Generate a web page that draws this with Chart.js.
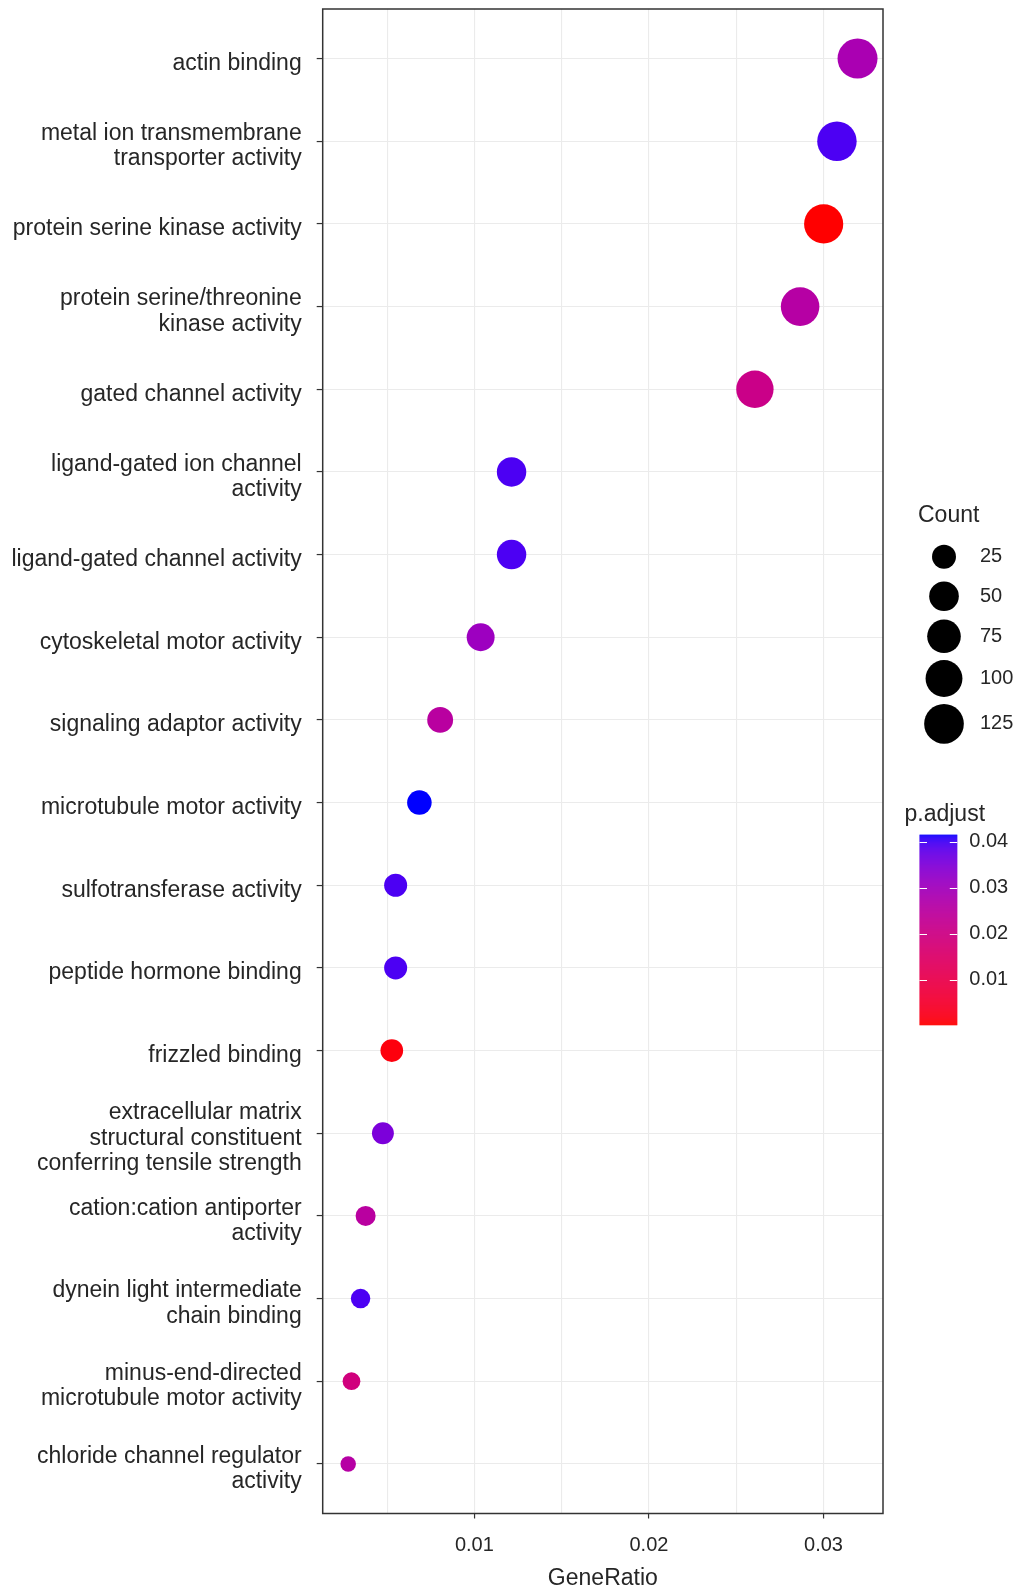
<!DOCTYPE html>
<html>
<head>
<meta charset="utf-8">
<title>GO enrichment dot plot</title>
<script src="https://cdn.jsdelivr.net/npm/chart.js@4.4.1/dist/chart.umd.min.js"></script>
<style>
  html, body { margin: 0; padding: 0; background: #ffffff; }
  canvas { display: block; }
</style>
</head>
<body>
<canvas id="dot" width="1019" height="1589"></canvas>
<script>
// GO molecular-function terms, top to bottom
const categories = [
  'actin binding',
  'metal ion transmembrane\ntransporter activity',
  'protein serine kinase activity',
  'protein serine/threonine\nkinase activity',
  'gated channel activity',
  'ligand-gated ion channel\nactivity',
  'ligand-gated channel activity',
  'cytoskeletal motor activity',
  'signaling adaptor activity',
  'microtubule motor activity',
  'sulfotransferase activity',
  'peptide hormone binding',
  'frizzled binding',
  'extracellular matrix\nstructural constituent\nconferring tensile strength',
  'cation:cation antiporter\nactivity',
  'dynein light intermediate\nchain binding',
  'minus-end-directed\nmicrotubule motor activity',
  'chloride channel regulator\nactivity'
];
const geneRatio = [0.03195, 0.03077, 0.03001, 0.02866, 0.02607, 0.01213, 0.01213, 0.01036,
                   0.00804, 0.00685, 0.00549, 0.00549, 0.00527, 0.00476, 0.00377, 0.00348,
                   0.00296, 0.00277];
const counts = [128, 123, 120, 115, 104, 49, 49, 41, 32, 27, 22, 22, 21, 19, 15, 14, 12, 11];
const pAdjust = [0.0283, 0.0394, 0.00015, 0.0258, 0.0208, 0.0394, 0.0394, 0.0308, 0.0250,
                 0.0415, 0.0394, 0.0394, 0.0010, 0.0353, 0.0250, 0.0394, 0.0188, 0.0258];
const xTicks = [0.01, 0.02, 0.03];
const xMinorTicks = [0.005, 0.015, 0.025];
const countBreaks = [25, 50, 75, 100, 125];
const pBreaks = [0.01, 0.02, 0.03, 0.04];

const FONT = '"Liberation Sans", Arial, Helvetica, sans-serif';
const TEXT = '#262626';

// ---- colour scale: red (low p.adjust) to blue (high), interpolated in CIELAB ----
const WHITE = [0.95047, 1, 1.08883];
function toLinear(c) { c /= 255; return c <= 0.04045 ? c / 12.92 : Math.pow((c + 0.055) / 1.055, 2.4); }
function fromLinear(v) {
  v = Math.max(0, Math.min(1, v));
  const s = v <= 0.0031308 ? 12.92 * v : 1.055 * Math.pow(v, 1 / 2.4) - 0.055;
  return Math.round(s * 255);
}
function rgbToLab(rgb) {
  const R = toLinear(rgb[0]), G = toLinear(rgb[1]), B = toLinear(rgb[2]);
  const X = 0.4124 * R + 0.3576 * G + 0.1805 * B;
  const Y = 0.2126 * R + 0.7152 * G + 0.0722 * B;
  const Z = 0.0193 * R + 0.1192 * G + 0.9505 * B;
  const f = t => t > 0.008856 ? Math.cbrt(t) : 7.787 * t + 16 / 116;
  const fx = f(X / WHITE[0]), fy = f(Y / WHITE[1]), fz = f(Z / WHITE[2]);
  return [116 * fy - 16, 500 * (fx - fy), 200 * (fy - fz)];
}
function labToRgb(lab) {
  const fy = (lab[0] + 16) / 116, fx = fy + lab[1] / 500, fz = fy - lab[2] / 200;
  const inv = t => t > 0.206893 ? t * t * t : (t - 16 / 116) / 7.787;
  const X = WHITE[0] * inv(fx), Y = WHITE[1] * inv(fy), Z = WHITE[2] * inv(fz);
  return [
    fromLinear(3.2406 * X - 1.5372 * Y - 0.4986 * Z),
    fromLinear(-0.9689 * X + 1.8758 * Y + 0.0415 * Z),
    fromLinear(0.0557 * X - 0.2040 * Y + 1.0570 * Z)
  ];
}
const LAB_LOW = rgbToLab([255, 0, 0]);
const LAB_HIGH = rgbToLab([0, 0, 255]);
const pMin = Math.min(...pAdjust), pMax = Math.max(...pAdjust);
function colourFor(p) {
  const t = Math.max(0, Math.min(1, (p - pMin) / (pMax - pMin)));
  const c = labToRgb(LAB_LOW.map((v, i) => v + (LAB_HIGH[i] - v) * t));
  return 'rgb(' + c[0] + ',' + c[1] + ',' + c[2] + ')';
}

// ---- size scale: point area proportional to Count ----
const cMin = Math.min(...counts), cMax = Math.max(...counts);
const D_MIN = 15.5, D_MAX = 40;
function diameterFor(c) {
  const t = Math.max(0, (c - cMin) / (cMax - cMin));
  return D_MIN + (D_MAX - D_MIN) * Math.sqrt(t);
}

// x range padded by 5% of the data span on each side
const gMin = Math.min(...geneRatio), gMax = Math.max(...geneRatio);
const gPad = 0.05 * (gMax - gMin);

// term labels sit slightly below their tick, like grid text centred on its bounding box
const labelNudge = {
  id: 'labelNudge',
  beforeDraw(chart) {
    chart.scales.y.getLabelItems().forEach(item => {
      if (!item.nudged) { item.textOffset += 5; item.nudged = true; }
    });
  }
};

// ---- panel border and the two legends ----
const extras = {
  id: 'extras',
  afterDraw(chart) {
    const ctx = chart.ctx, a = chart.chartArea;
    ctx.save();
    // panel border
    ctx.strokeStyle = '#333333';
    ctx.lineWidth = 1.5;
    ctx.strokeRect(a.left, a.top, a.right - a.left, a.bottom - a.top);

    // Count legend
    ctx.textAlign = 'left';
    ctx.textBaseline = 'middle';
    ctx.fillStyle = TEXT;
    ctx.font = '23px ' + FONT;
    ctx.fillText('Count', a.right + 35, 516);
    const cx = a.right + 61;
    let y = 537;
    countBreaks.forEach(c => {
      const d = diameterFor(c);
      const h = Math.max(39.5, d + 7);
      const cy = y + h / 2;
      ctx.beginPath();
      ctx.arc(cx, cy, d / 2, 0, Math.PI * 2);
      ctx.fillStyle = '#000000';
      ctx.fill();
      ctx.fillStyle = TEXT;
      ctx.font = '20px ' + FONT;
      ctx.fillText(String(c), cx + 36, cy);
      y += h;
    });

    // p.adjust colour bar
    ctx.font = '23px ' + FONT;
    ctx.fillStyle = TEXT;
    ctx.fillText('p.adjust', a.right + 21.5, 815);
    const bL = a.right + 36.5, bR = a.right + 74.3, bT = 834.6, bB = 1025;
    const yOf = p => bB - (p - pMin) / (pMax - pMin) * (bB - bT);
    for (let yy = bT; yy < bB; yy += 1) {
      const p = pMin + (bB - (yy + 0.5)) / (bB - bT) * (pMax - pMin);
      ctx.fillStyle = colourFor(p);
      ctx.fillRect(bL, yy, bR - bL, Math.min(1, bB - yy) + 0.3);
    }
    ctx.strokeStyle = '#ffffff';
    ctx.lineWidth = 1.2;
    ctx.font = '20px ' + FONT;
    pBreaks.forEach(p => {
      const py = Math.round(yOf(p)) + 0.5;
      ctx.beginPath();
      ctx.moveTo(bL, py); ctx.lineTo(bL + 7.5, py);
      ctx.moveTo(bR - 7.5, py); ctx.lineTo(bR, py);
      ctx.stroke();
      ctx.fillStyle = TEXT;
      ctx.fillText(p.toFixed(2), bR + 12, yOf(p));
    });
    ctx.restore();
  }
};

Chart.defaults.font.family = FONT;

new Chart(document.getElementById('dot'), {
  type: 'scatter',
  data: {
    datasets: [{
      data: geneRatio.map((g, i) => ({ x: g, y: i })),
      pointRadius: ctx => diameterFor(counts[ctx.dataIndex]) / 2,
      pointHoverRadius: ctx => diameterFor(counts[ctx.dataIndex]) / 2,
      pointBackgroundColor: ctx => colourFor(pAdjust[ctx.dataIndex]),
      pointBorderWidth: 0,
      pointHoverBorderWidth: 0
    }]
  },
  options: {
    responsive: false,
    animation: false,
    devicePixelRatio: 1,
    layout: { autoPadding: false, padding: { top: 9, right: 136, left: 0, bottom: 0 } },
    plugins: { legend: { display: false }, tooltip: { enabled: false } },
    scales: {
      x: {
        type: 'linear',
        min: gMin - gPad,
        max: gMax + gPad,
        afterBuildTicks: s => {
          s.ticks = xMinorTicks.concat(xTicks).sort((a, b) => a - b).map(v => ({ value: v }));
        },
        afterFit: s => {
          s.height = 75.5;
          s.paddingLeft = 0; s.paddingRight = 0;
        },
        ticks: {
          autoSkip: false,
          maxRotation: 0,
          padding: 15,
          color: TEXT,
          font: { size: 20 },
          callback: v => xTicks.includes(v) ? String(v) : ''
        },
        grid: {
          color: '#EBEBEB',
          lineWidth: 1.1,
          tickLength: 5,
          tickWidth: 1.2,
          tickColor: ctx => (ctx.tick && xTicks.includes(ctx.tick.value)) ? '#333333' : 'rgba(0,0,0,0)'
        },
        border: { display: false },
        title: {
          display: true,
          text: 'GeneRatio',
          color: TEXT,
          font: { size: 23 },
          padding: { top: 0, bottom: -3 }
        }
      },
      y: {
        type: 'linear',
        reverse: true,
        min: -0.6,
        max: categories.length - 1 + 0.6,
        afterBuildTicks: s => { s.ticks = categories.map((_, i) => ({ value: i })); },
        afterFit: s => {
          s.width = 322.7;
          s.paddingTop = 0; s.paddingBottom = 0;
        },
        ticks: {
          autoSkip: false,
          padding: 15,
          color: TEXT,
          font: { size: 23, lineHeight: 1.1 },
          callback: v => categories[v].split('\n')
        },
        grid: {
          color: '#EBEBEB',
          lineWidth: 1.1,
          tickLength: 6,
          tickWidth: 1.2,
          tickColor: '#333333'
        },
        border: { display: false }
      }
    }
  },
  plugins: [labelNudge, extras]
});
</script>
</body>
</html>
